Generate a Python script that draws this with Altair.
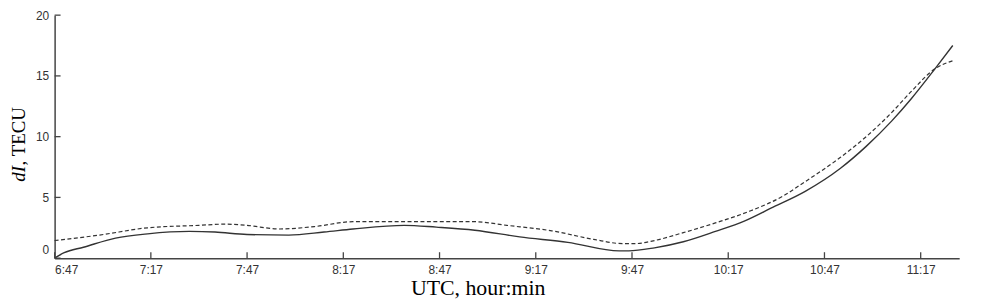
import altair as alt
import pandas as pd

# minutes after 6:47 UTC
solid_min = [0, 3, 9, 19, 29, 42, 50, 60, 73, 84, 93, 109, 119, 131, 145, 160, 176, 179, 187,
             196, 206, 215, 224, 234, 245, 253, 261, 267, 274.5, 280]
solid_val = [0.0, 0.45, 0.9, 1.65, 2.0, 2.2, 2.15, 1.95, 1.9, 2.15, 2.4, 2.7, 2.55, 2.3, 1.75,
             1.3, 0.6, 0.6, 0.85, 1.35, 2.2, 3.05, 4.2, 5.5, 7.4, 9.2, 11.3, 13.1, 15.6, 17.5]

dash_min = [0, 14, 29, 45, 53, 60, 70, 81, 93, 109, 131, 141, 155, 168, 177, 181, 187,
            196, 206, 217, 227, 234, 245, 253, 261, 267, 274.5, 280]
dash_val = [1.45, 1.9, 2.5, 2.7, 2.8, 2.7, 2.4, 2.6, 3.0, 3.0, 3.0, 2.7, 2.25, 1.55, 1.2, 1.2,
            1.45, 2.1, 2.9, 3.9, 5.1, 6.3, 8.3, 10.0, 12.0, 13.7, 15.6, 16.25]

x_ticks = [0, 30, 60, 90, 120, 150, 180, 210, 240, 270]
y_ticks = [0, 5, 10, 15, 20]

W, H = 912, 245

solid_df = pd.DataFrame({"t": solid_min, "v": solid_val})
dash_df = pd.DataFrame({"t": dash_min, "v": dash_val})
xt_df = pd.DataFrame({"t": x_ticks})
yt_df = pd.DataFrame({"v": y_ticks})

xscale = alt.Scale(domain=[0, 282], nice=False, zero=False)
yscale = alt.Scale(domain=[0, 20], nice=False)

label_expr = ("floor((datum.value+407)/60) + ':' + "
              "(((datum.value+407)%60) < 10 ? '0' : '') + ((datum.value+407)%60)")

x_axis = alt.Axis(values=x_ticks, labelExpr=label_expr, title=None, ticks=False,
                  grid=False, labelFont="Liberation Sans", labelFontSize=12,
                  labelColor="#333", labelPadding=6, domainColor="#444",
                  domainWidth=1.5)
y_axis = alt.Axis(values=y_ticks, title=None, ticks=False, grid=False,
                  labelFont="Liberation Sans", labelFontSize=12, labelColor="#333",
                  labelPadding=6, domainColor="#444", domainWidth=1.5,
                  labelOffset={"condition": {"test": "datum.value === 0", "value": -9},
                               "value": 0})

solid = alt.Chart(solid_df).mark_line(color="#333", strokeWidth=1.4,
                                      interpolate="monotone").encode(
    x=alt.X("t:Q", scale=xscale, axis=x_axis),
    y=alt.Y("v:Q", scale=yscale, axis=y_axis),
)

dashed = alt.Chart(dash_df).mark_line(color="#333", strokeWidth=1.2,
                                      strokeDash=[4, 2.5],
                                      interpolate="monotone").encode(
    x=alt.X("t:Q", scale=xscale, axis=x_axis),
    y=alt.Y("v:Q", scale=yscale, axis=y_axis),
)

xt = alt.Chart(xt_df).mark_rule(color="#444", strokeWidth=1.3).encode(
    x=alt.X("t:Q", scale=xscale, axis=x_axis),
    y=alt.value(H),
    y2=alt.value(H - 6),
)

yt = alt.Chart(yt_df).mark_rule(color="#444", strokeWidth=1.3).encode(
    y=alt.Y("v:Q", scale=yscale, axis=y_axis),
    x=alt.value(0),
    x2=alt.value(6),
)

ytitle1 = alt.Chart(alt.Data(values=[{}])).mark_text(
    text="dI", font="Liberation Serif", fontSize=19, fontStyle="italic",
    angle=270, align="left", baseline="alphabetic", color="black"
).encode(x=alt.value(-30), y=alt.value(168))

ytitle2 = alt.Chart(alt.Data(values=[{}])).mark_text(
    text=", TECU", font="Liberation Serif", fontSize=19,
    angle=270, align="left", baseline="alphabetic", color="black"
).encode(x=alt.value(-30), y=alt.value(151.5))

xtitle = alt.Chart(alt.Data(values=[{}])).mark_text(
    text="UTC, hour:min", font="Liberation Serif", fontSize=22,
    align="center", baseline="alphabetic", color="black"
).encode(x=alt.value(427), y=alt.value(282))

chart = alt.layer(solid, dashed, xt, yt, ytitle1, ytitle2, xtitle).properties(
    width=W, height=H,
    autosize=alt.AutoSizeParams(type="none"),
    padding={"left": 47, "top": 6, "right": 23, "bottom": 45},
).configure_view(stroke=None)

chart.save("out.html", embed_options={"renderer": "svg", "actions": False})
